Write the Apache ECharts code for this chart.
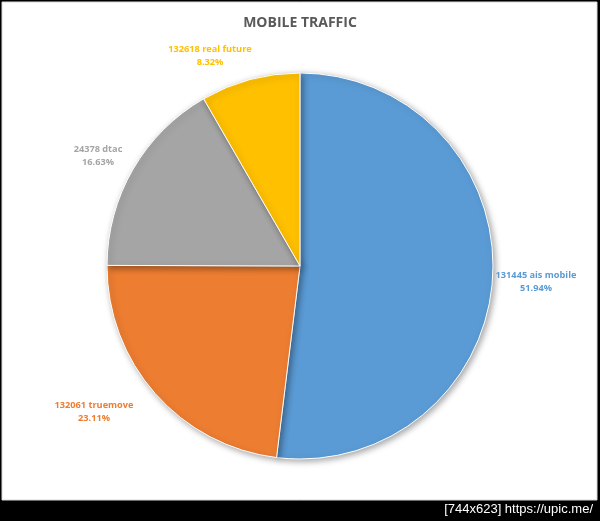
<!DOCTYPE html>
<html>
<head>
<meta charset="utf-8">
<script src="https://cdn.jsdelivr.net/npm/echarts@6/dist/echarts.min.js"></script>
<style>
html,body{margin:0;padding:0;background:#000;}
#chart{width:600px;height:521px;}
</style>
</head>
<body>
<div id="chart"></div>
<script>
// ---- data ----
const categories = ['131445 ais mobile', '132061 truemove', '24378 dtac', '132618 real future'];
const percents = [51.94, 23.11, 16.63, 8.32];
const colors = ['#5B9BD5', '#ED7D31', '#A5A5A5', '#FFC000'];

// ---- layout (label anchor points, not data) ----
const labelPos = [[536, 282], [94, 412], [98, 156], [210, 56]];

const chart = echarts.init(document.getElementById('chart'), null, {renderer: 'canvas'});
chart.setOption({
  backgroundColor: '#000',
  animation: false,
  title: {
    text: 'MOBILE TRAFFIC',
    left: 'center',
    top: 11,
    textStyle: {fontFamily: 'Open Sans', fontWeight: 'bold', fontSize: 14, color: '#595959'}
  },
  graphic: [
    {type: 'rect', z: -10, shape: {x: 2, y: 2, width: 595, height: 498}, style: {fill: '#fff', stroke: '#d9d9d9', lineWidth: 1}},
    {type: 'text', right: 7, top: 503, style: {text: '[744x623] https://upic.me/', fill: '#fff', font: '13px "Liberation Sans"'}}
  ],
  series: [{
    type: 'pie',
    center: [300, 266],
    radius: 193,
    startAngle: 90,
    clockwise: true,
    data: categories.map((c, i) => ({name: c, value: percents[i], itemStyle: {color: colors[i]}})),
    itemStyle: {
      borderColor: '#fff', borderWidth: 1,
      shadowBlur: 6, shadowColor: 'rgba(0,0,0,0.35)', shadowOffsetX: 2, shadowOffsetY: 2
    },
    label: {
      show: true,
      position: 'outside',
      alignTo: 'none',
      overflow: 'none',
      width: 200,
      formatter: p => p.name + '\n' + p.value.toFixed(2) + '%',
      fontFamily: 'Open Sans',
      fontWeight: 'bold',
      fontSize: 9.2,
      lineHeight: 13,
      align: 'center',
      color: 'inherit'
    },
    labelLine: {show: false},
    labelLayout: function (params) {
      const p = labelPos[params.dataIndex];
      return {x: p[0], y: p[1], align: 'center', verticalAlign: 'middle', hideOverlap: false};
    },
    emphasis: {disabled: true}
  }]
});
</script>
</body>
</html>
